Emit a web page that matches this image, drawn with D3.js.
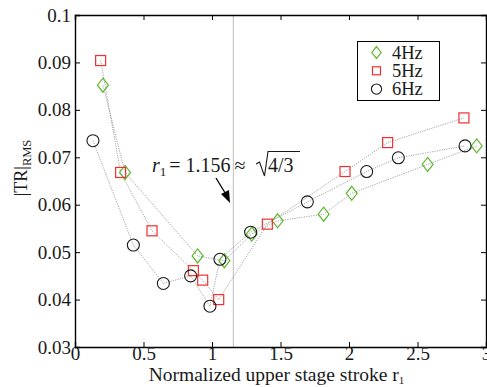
<!DOCTYPE html>
<html><head><meta charset="utf-8">
<script src="https://cdn.jsdelivr.net/npm/d3@7/dist/d3.min.js"></script>
<style>
html,body{margin:0;padding:0;background:#fff;}
svg{display:block;}
svg text{font-family:"Liberation Serif","DejaVu Serif","Times New Roman",serif !important;}
</style></head>
<body><svg id="c" width="487" height="387"></svg>
<script>
const xTicks = [0, 0.5, 1, 1.5, 2, 2.5, 3];
const xTickLabels = ["0", "0.5", "1", "1.5", "2", "2.5", "3"];
const yTicks = [0.03, 0.04, 0.05, 0.06, 0.07, 0.08, 0.09, 0.1];
const yTickLabels = ["0.03", "0.04", "0.05", "0.06", "0.07", "0.08", "0.09", "0.1"];
const seriesNames = ["4Hz", "5Hz", "6Hz"];
const x4 = [0.204, 0.365, 0.895, 1.090, 1.290, 1.479, 1.815, 2.020, 2.574, 2.932];
const y4 = [0.0852, 0.0668, 0.0492, 0.0482, 0.0538, 0.0566, 0.0580, 0.0624, 0.0685, 0.0724];
const x5 = [0.187, 0.333, 0.562, 0.864, 0.932, 1.049, 1.404, 1.971, 2.282, 2.839];
const y5 = [0.0904, 0.0668, 0.0545, 0.0461, 0.0441, 0.0400, 0.0559, 0.0670, 0.0731, 0.0783];
const x6 = [0.131, 0.426, 0.645, 0.844, 0.985, 1.058, 1.282, 1.696, 2.129, 2.360, 2.847];
const y6 = [0.0735, 0.0515, 0.0434, 0.0450, 0.0386, 0.0485, 0.0542, 0.0606, 0.0670, 0.0699, 0.0724];
const r1Line = 1.156;

const svg = d3.select("#c");
const L = 75, R = 486, T = 15, B = 347;
const x = d3.scaleLinear().domain([0, 3]).range([L, R]);
const y = d3.scaleLinear().domain([0.03, 0.1]).range([B, T]);

svg.append("line").attr("x1", x(r1Line)).attr("x2", x(r1Line)).attr("y1", T).attr("y2", B)
  .attr("stroke", "#c8c8c8").attr("stroke-width", 1.2);

const fmtX = d => xTickLabels[xTicks.indexOf(d)];
const fmtY = d => yTickLabels[yTicks.findIndex(v => Math.abs(v - d) < 1e-9)];
const gx = svg.append("g").attr("transform", `translate(0,${B})`)
  .call(d3.axisBottom(x).tickValues(xTicks).tickFormat(fmtX).tickSize(-5).tickPadding(0));
const gxt = svg.append("g").attr("transform", `translate(0,${T})`)
  .call(d3.axisTop(x).tickValues(xTicks).tickFormat("").tickSize(-5));
const gy = svg.append("g").attr("transform", `translate(${L},0)`)
  .call(d3.axisLeft(y).tickValues(yTicks).tickFormat(fmtY).tickSize(-5).tickPadding(4));
const gyr = svg.append("g").attr("transform", `translate(${R},0)`)
  .call(d3.axisRight(y).tickValues(yTicks).tickFormat("").tickSize(-5));
[gx, gxt, gy, gyr].forEach(g => {
  g.attr("font-family", null);
  g.select(".domain").attr("stroke", "#000").attr("stroke-width", 1.4);
  g.selectAll(".tick line").attr("stroke", "#000").attr("stroke-width", 1);
  g.selectAll("text").attr("font-size", 19).attr("fill", "#1a1a1a");
});
gx.selectAll("text").attr("dy", "0.7em");

const colors = ["#5cb82e", "#f03030", "#1a1a1a"];
const data = [
  x4.map((v, i) => [v, y4[i]]),
  x5.map((v, i) => [v, y5[i]]),
  x6.map((v, i) => [v, y6[i]])
];
const line = d3.line().x(d => x(d[0])).y(d => y(d[1]));
data.forEach(pts => {
  svg.append("path").attr("d", line(pts)).attr("fill", "none")
    .attr("stroke", "#9a9a9a").attr("stroke-width", 0.9).attr("stroke-dasharray", "1.2,1.2");
});
function marker(g, k, cx, cy, s) {
  if (k === 0) {
    g.append("path").attr("d", `M${cx},${cy - 7 * s}L${cx + 5.5 * s},${cy}L${cx},${cy + 7 * s}L${cx - 5.5 * s},${cy}Z`)
      .attr("fill", "none").attr("stroke", colors[0]).attr("stroke-width", 1.2);
  } else if (k === 1) {
    g.append("rect").attr("x", cx - 5 * s).attr("y", cy - 5 * s).attr("width", 10 * s).attr("height", 10 * s)
      .attr("fill", "none").attr("stroke", colors[1]).attr("stroke-width", 1.2);
  } else {
    g.append("circle").attr("cx", cx).attr("cy", cy).attr("r", 6 * s)
      .attr("fill", "none").attr("stroke", colors[2]).attr("stroke-width", 1.1);
  }
}
const mg = svg.append("g");
data.forEach((pts, k) => pts.forEach(p => marker(mg, k, x(p[0]), y(p[1]), 1)));

const lg = svg.append("g");
lg.append("rect").attr("x", 357.5).attr("y", 41.5).attr("width", 82).attr("height", 59)
  .attr("fill", "#fff").attr("stroke", "#000").attr("stroke-width", 1);
seriesNames.forEach((n, i) => {
  const cy = 52.5 + i * 18.3;
  marker(lg, i, 376.5, cy, i === 1 ? 0.8 : 0.85);
  lg.append("text").attr("x", 392).attr("y", cy + 6).attr("font-size", 18.5).attr("fill", "#1a1a1a").text(n);
});

// annotation r1 = 1.156 ≈ sqrt(4/3)
const ann = svg.append("text").attr("x", 152).attr("y", 172).attr("font-size", 20).attr("fill", "#1a1a1a");
ann.append("tspan").attr("font-style", "italic").text("r");
ann.append("tspan").attr("font-size", 13).attr("dy", 4).text("1");
ann.append("tspan").attr("dy", -4).attr("dx", 3).text("= 1.156");
ann.append("tspan").attr("dx", 4).text("≈");
svg.append("text").attr("x", 268).attr("y", 172).attr("font-size", 20).attr("fill", "#1a1a1a").text("4/3");
svg.append("path").attr("d", "M256,164L259.5,162L264.5,176L268,151.5L300,151.5")
  .attr("fill", "none").attr("stroke", "#1a1a1a").attr("stroke-width", 1.1);
// arrow
svg.append("line").attr("x1", 216).attr("y1", 178).attr("x2", 227).attr("y2", 196)
  .attr("stroke", "#000").attr("stroke-width", 1.3);
svg.append("path").attr("d", "M230,203L221,194L229,190Z").attr("fill", "#000");

// axis titles
const xt = svg.append("text").attr("x", 276.5).attr("y", 381).attr("text-anchor", "middle").attr("font-size", 19.5)
  .attr("fill", "#1a1a1a");
xt.append("tspan").text("Normalized upper stage stroke r");
xt.append("tspan").attr("font-size", 11).attr("dy", 3).text("1");
const yl = svg.append("text").attr("transform", "translate(27,168) rotate(-90)").attr("text-anchor", "middle")
  .attr("font-size", 18).attr("fill", "#1a1a1a");
yl.append("tspan").text("|TR|");
yl.append("tspan").attr("font-size", 12.5).attr("dy", 4).text("RMS");
</script></body></html>
